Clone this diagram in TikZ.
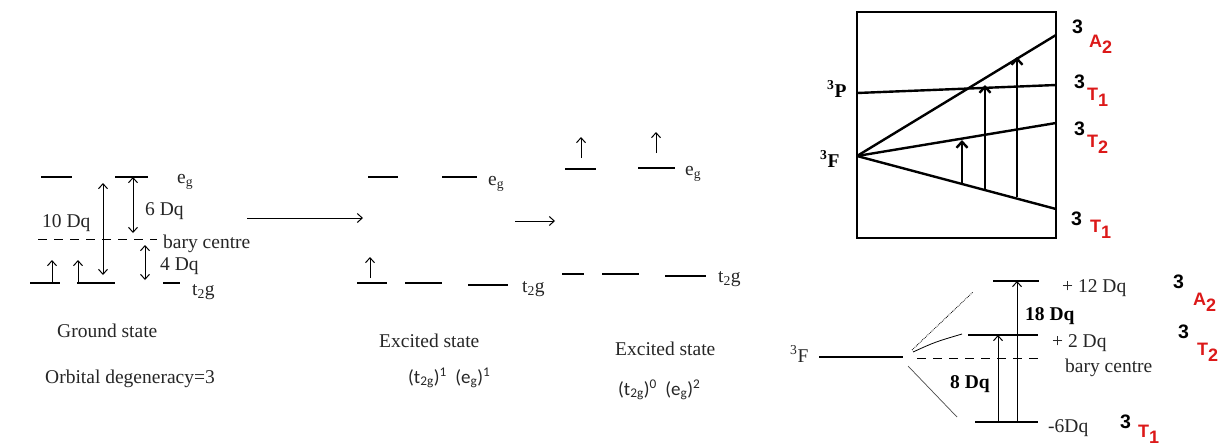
\documentclass[tikz,border=0pt]{standalone}
\usepackage{fontspec}
\setmainfont{Liberation Serif}
\newfontfamily\calib{Carlito}
\newfontfamily\sansb{Liberation Sans}
\usetikzlibrary{arrows.meta}
\definecolor{lblred}{RGB}{220,25,25}
\newcommand\lowsub[1]{\raisebox{-6pt}{#1}}
\begin{document}
\begin{tikzpicture}[x=1pt,y=-1pt,
  lvl/.style={line width=1.2pt,black},
  thick box/.style={line width=2.8pt,black},
  barb/.style={-{Straight Barb[length=5pt,width=9pt]}},
  bigbarb/.style={-{Straight Barb[length=6pt,width=11pt]}},
  dbarb/.style={{Straight Barb[length=5pt,width=9pt]}-{Straight Barb[length=5pt,width=9pt]}},
  lbl/.style={anchor=base west,inner sep=0pt,font=\fontsize{19.5}{22}\selectfont,text=black!85},
  blbl/.style={anchor=base west,inner sep=0pt,font=\fontsize{19.5}{22}\selectfont\bfseries,text=black},
  cal/.style={anchor=base west,inner sep=0pt,font=\fontsize{19}{22}\calib,text=black!85},
  num/.style={anchor=base west,inner sep=0pt,font=\fontsize{19.5}{22}\sansb\bfseries,text=black},
  term/.style={anchor=base west,inner sep=0pt,font=\fontsize{18}{21}\sansb\bfseries,text=lblred},
  bary/.style={line width=1pt,dash pattern=on 9pt off 7pt}]
\path[fill=white] (0,0) rectangle (1225,445);
\useasboundingbox (0,0) rectangle (1225,445);

% ---------------- Ground state ----------------
\draw[lvl] (41,177) -- (72,177);
\draw[lvl] (115,177) coordinate (gEg) -- (148,177);
\node[lbl] (gEgL) at (177,183) {e\textsubscript{g}};
\draw[bary] (38,239) -- (157,239);
\node[lbl] (gBary) at (163,248) {bary centre};
\draw[lvl] (30,283) -- (60,283);
\draw[lvl] (77,283) -- (115,283);
\draw[lvl] (163,283) -- (180,283);
\node[lbl] (gT2g) at (192,295) {t\textsubscript{2}g};
\coordinate (g10a) at (103,183); \coordinate (g10b) at (103,275);
\draw[dbarb,line width=1pt] (g10a) -- (g10b);
\node[lbl] (g10) at (42,227) {10 Dq};
\coordinate (g6a) at (133,177); \coordinate (g6b) at (133,233);
\draw[dbarb,line width=1pt] (g6a) -- (g6b);
\node[lbl] (g6) at (145,215) {6 Dq};
\coordinate (g4a) at (145,245); \coordinate (g4b) at (145,280);
\draw[dbarb,line width=1pt] (g4a) -- (g4b);
\node[lbl] (g4) at (160,270) {4 Dq};
\coordinate (ge1a) at (52,283); \coordinate (ge1b) at (52,260);
\draw[barb,line width=1pt] (ge1a) -- (ge1b);
\coordinate (ge2a) at (78,283); \coordinate (ge2b) at (78,260);
\draw[barb,line width=1pt] (ge2a) -- (ge2b);
\node[lbl] (gs) at (57,337) {Ground state};
\node[lbl] (od) at (45,383) {Orbital degeneracy=3};

\coordinate (arA) at (247,218); \coordinate (arB) at (363,218);
\draw[barb,line width=1pt] (arA) -- (arB);

% ---------------- Excited state 1 ----------------
\draw[lvl] (368,177) -- (398,177);
\draw[lvl] (442,177) -- (477,177);
\node[lbl] (e1Eg) at (488,185) {e\textsubscript{g}};
\draw[lvl] (357,283) -- (387,283);
\draw[lvl] (405,283) -- (442,283);
\draw[lvl] (468,285) -- (508,285);
\node[lbl] (e1T) at (522,292) {t\textsubscript{2}g};
\coordinate (e1ua) at (370,278); \coordinate (e1ub) at (370,257);
\draw[barb,line width=1pt] (e1ua) -- (e1ub);
\coordinate (ar2A) at (515,221); \coordinate (ar2B) at (555,221);
\draw[barb,line width=1pt] (ar2A) -- (ar2B);
\node[lbl] (ex1) at (379,347) {Excited state};
\node[cal] (cf1) at (408,383) {(t\textsubscript{2g})\textsuperscript{1}\ \ (e\textsubscript{g})\textsuperscript{1}};

% ---------------- Excited state 2 ----------------
\draw[lvl] (565,169) -- (596,169);
\draw[lvl] (638,168) -- (675,168);
\node[lbl] (e2Eg) at (685,175) {e\textsubscript{g}};
\coordinate (e2ua) at (581,158); \coordinate (e2ub) at (581,137);
\draw[barb,line width=1pt] (e2ua) -- (e2ub);
\coordinate (e2va) at (656,153); \coordinate (e2vb) at (656,132);
\draw[barb,line width=1pt] (e2va) -- (e2vb);
\draw[lvl] (562,274) -- (584,274);
\draw[lvl] (602,274) -- (639,274);
\draw[lvl] (665,276) -- (706,276);
\node[lbl] (e2T) at (718,282) {t\textsubscript{2}g};
\node[lbl] (ex2) at (615,355) {Excited state};
\node[cal] (cf2) at (618,395) {(t\textsubscript{2g})\textsuperscript{0}\ \ (e\textsubscript{g})\textsuperscript{2}};

% ---------------- Orgel-type box ----------------
\draw[thick box] (857,12) rectangle (1056,238);
\coordinate (F) at (857,156);
\coordinate (Pl) at (857,93); \coordinate (Pr) at (1056,85);
\coordinate (A2r) at (1056,35);
\coordinate (T2r) at (1056,123);
\coordinate (T1r) at (1056,209);
\draw[line width=2.4pt] (Pl) -- (Pr);
\draw[line width=2.4pt] (F) -- (A2r);
\draw[line width=2.4pt] (F) -- (T2r);
\draw[line width=2.4pt] (F) -- (T1r);
\draw[bigbarb,line width=2.4pt] (962,183) -- (962,140);
\draw[bigbarb,line width=2.4pt] (985,189) -- (985,85);
\draw[bigbarb,line width=2.4pt] (1017,197) -- (1017,57);
\node[blbl] (bP) at (827,97) {\textsuperscript{3}P};
\node[blbl] (bF) at (820,167) {\textsuperscript{3}F};
\node[num] (n1) at (1072,33) {3};
\node[term] (tA) at (1089,47) {A\lowsub{2}};
\node[num] (n2) at (1074,88) {3};
\node[term] (tT1) at (1087,100) {T\lowsub{1}};
\node[num] (n3) at (1074,135) {3};
\node[term] (tT2) at (1087,147) {T\lowsub{2}};
\node[num] (n4) at (1071,225) {3};
\node[term] (tT1b) at (1090,232) {T\lowsub{1}};

% ---------------- Splitting of 3F ----------------
\node[lbl] (sF) at (790,362) {\textsuperscript{3}F};
\draw[lvl] (819,357) -- (903,357);
\draw[bary] (917,358) -- (1040,358);
\draw[line width=0.8pt,densely dotted] (912,350) -- (973,292);
\draw[line width=0.8pt] (913,352) .. controls (935,342) .. (962,334);
\draw[line width=0.7pt,black!70] (908,366) -- (957,417);
\draw[lvl] (993,281) -- (1039,281);
\draw[lvl] (968,335) -- (1038,335);
\draw[lvl] (975,422) -- (1038,422);
\coordinate (v18a) at (1017,422); \coordinate (v18b) at (1017,281);
\draw[barb,line width=1pt] (v18a) -- (v18b);
\coordinate (v8a) at (998,422); \coordinate (v8b) at (998,335);
\draw[barb,line width=1pt] (v8a) -- (v8b);
\node[lbl] (p12) at (1062,292) {+ 12 Dq};
\node[blbl] (d18) at (1025,320) {18 Dq};
\node[lbl] (p2) at (1052,347) {+ 2 Dq};
\node[lbl] (bc2) at (1065,372) {bary centre};
\node[blbl] (d8) at (950,388) {8 Dq};
\node[lbl] (m6) at (1048,432) {-6Dq};
\node[num] (m1) at (1173,288) {3};
\node[term] (mA) at (1193,305) {A\lowsub{2}};
\node[num] (m2) at (1178,338) {3};
\node[term] (mT2) at (1197,355) {T\lowsub{2}};
\node[num] (m3) at (1120,428) {3};
\node[term] (mT1) at (1138,437) {T\lowsub{1}};
\end{tikzpicture}
\end{document}
